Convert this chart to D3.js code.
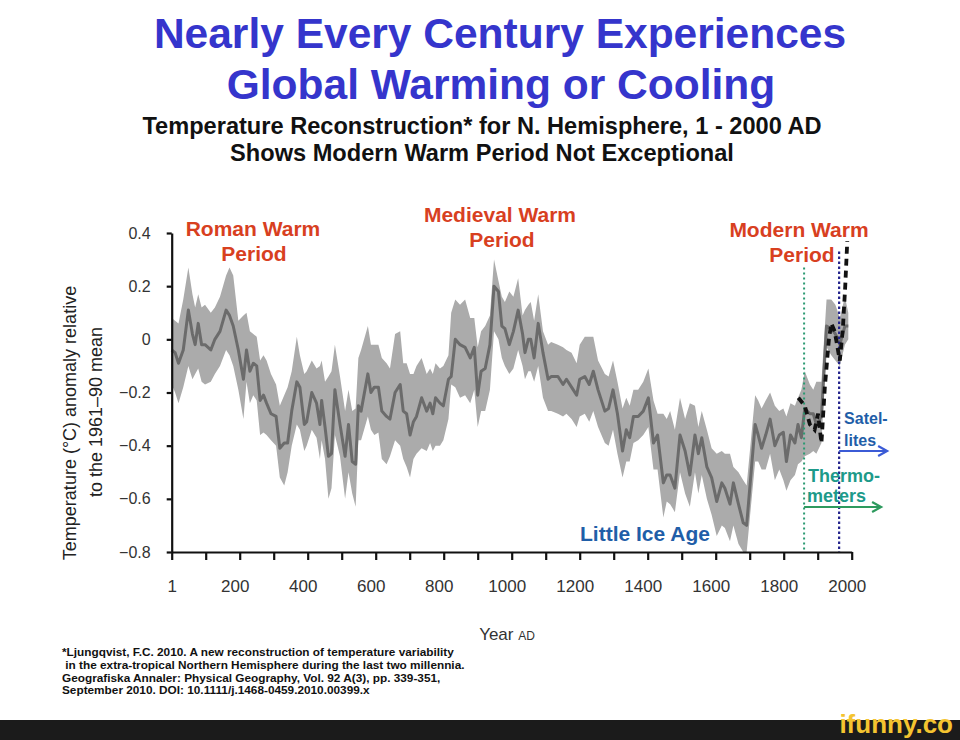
<!DOCTYPE html>
<html><head><meta charset="utf-8">
<script src="https://cdn.jsdelivr.net/npm/d3@7"></script>
<style>
body{margin:0;background:#fff;}
svg{display:block;font-family:"Liberation Sans",Arial,Helvetica,sans-serif;}
</style>
</head><body>
<svg id="chart" width="960" height="740"></svg>
<script>
// ---- Data ----
const years = [0,10,20,34,49,61,69,78,88,98,115,127,142,160,170,181,196,211,220,230,240,250,260,270,279,292,307,318,331,341,353,368,377,390,397,412,426,436,441,451,461,470,480,495,510,520,531,541,549,557,577,586,596,608,618,632,642,657,672,681,691,701,711,720,735,750,760,768,776,789,799,814,822,834,848,863,878,890,900,910,922,936,948,961,971,980,993,1005,1019,1032,1039,1049,1056,1066,1078,1092,1107,1116,1136,1151,1161,1176,1191,1200,1215,1228,1240,1254,1274,1285,1298,1311,1326,1337,1347,1358,1372,1387,1402,1417,1429,1446,1456,1466,1480,1495,1510,1524,1539,1549,1559,1574,1588,1603,1618,1627,1642,1652,1667,1681,1691,1716,1725,1735,1747,1760,1774,1787,1799,1808,1820,1833,1842,1852,1862,1877,1887,1896,1911,1926,1940,1952,1965,1980,1990];
const recon = [-0.04,-0.05,-0.09,-0.04,0.11,0.02,-0.02,0.06,-0.02,-0.02,-0.04,0.00,0.03,0.11,0.09,0.05,-0.04,-0.15,-0.04,-0.12,-0.09,-0.10,-0.23,-0.21,-0.24,-0.28,-0.29,-0.41,-0.39,-0.39,-0.27,-0.16,-0.18,-0.32,-0.31,-0.20,-0.24,-0.32,-0.23,-0.33,-0.44,-0.43,-0.19,-0.32,-0.44,-0.32,-0.46,-0.47,-0.25,-0.27,-0.13,-0.20,-0.18,-0.18,-0.27,-0.29,-0.30,-0.20,-0.17,-0.27,-0.28,-0.36,-0.31,-0.29,-0.22,-0.27,-0.24,-0.28,-0.22,-0.24,-0.25,-0.15,-0.14,0.00,-0.02,-0.03,-0.07,-0.03,-0.21,-0.12,-0.11,-0.02,0.20,0.18,0.05,0.04,-0.02,0.03,0.11,0.02,-0.05,0.00,0.00,-0.07,0.06,-0.05,-0.15,-0.14,-0.14,-0.17,-0.15,-0.18,-0.21,-0.15,-0.14,-0.17,-0.12,-0.19,-0.27,-0.26,-0.19,-0.28,-0.42,-0.34,-0.37,-0.29,-0.29,-0.27,-0.22,-0.39,-0.36,-0.54,-0.51,-0.51,-0.56,-0.36,-0.42,-0.51,-0.36,-0.43,-0.37,-0.48,-0.52,-0.61,-0.54,-0.56,-0.62,-0.54,-0.62,-0.69,-0.70,-0.32,-0.36,-0.41,-0.36,-0.30,-0.40,-0.36,-0.35,-0.46,-0.36,-0.39,-0.32,-0.37,-0.26,-0.28,-0.28,-0.32,-0.29,0.05,0.04,0.02,-0.02,0.05,0.05];
const upper = [0.08,0.07,0.06,0.15,0.27,0.17,0.12,0.17,0.12,0.13,0.10,0.12,0.16,0.24,0.27,0.24,0.07,0.09,0.10,0.03,0.02,0.01,-0.08,-0.06,-0.08,-0.13,-0.17,-0.25,-0.21,-0.18,-0.12,0.01,-0.06,-0.13,-0.12,-0.08,-0.11,-0.10,-0.08,-0.16,-0.14,-0.12,-0.02,-0.14,-0.27,-0.19,-0.27,-0.26,-0.07,-0.04,0.05,-0.02,-0.02,-0.02,-0.07,-0.09,-0.11,0.02,0.03,-0.09,-0.09,-0.13,-0.13,-0.10,-0.07,-0.13,-0.11,-0.13,-0.09,-0.11,-0.10,-0.06,0.10,0.15,0.13,0.15,0.08,0.08,-0.03,0.03,0.05,0.09,0.30,0.22,0.16,0.14,0.18,0.16,0.23,0.09,0.11,0.13,0.14,0.07,0.17,0.03,-0.02,-0.01,-0.02,-0.03,-0.04,-0.05,-0.09,-0.02,0.01,0.01,0.01,-0.08,-0.13,-0.14,-0.08,-0.16,-0.26,-0.22,-0.25,-0.19,-0.19,-0.16,-0.11,-0.23,-0.28,-0.28,-0.30,-0.27,-0.34,-0.22,-0.30,-0.24,-0.25,-0.33,-0.27,-0.34,-0.41,-0.43,-0.42,-0.43,-0.43,-0.48,-0.50,-0.53,-0.55,-0.21,-0.23,-0.26,-0.23,-0.20,-0.25,-0.27,-0.26,-0.29,-0.24,-0.25,-0.22,-0.19,-0.12,-0.17,-0.19,-0.16,-0.16,0.15,0.15,0.13,0.08,0.16,0.10];
const lower = [-0.17,-0.20,-0.24,-0.18,-0.10,-0.15,-0.13,-0.11,-0.16,-0.17,-0.16,-0.13,-0.10,-0.04,-0.06,-0.10,-0.19,-0.30,-0.16,-0.24,-0.21,-0.23,-0.36,-0.35,-0.36,-0.38,-0.40,-0.52,-0.55,-0.50,-0.40,-0.32,-0.34,-0.42,-0.40,-0.34,-0.37,-0.45,-0.38,-0.45,-0.60,-0.56,-0.36,-0.44,-0.60,-0.50,-0.58,-0.63,-0.38,-0.38,-0.29,-0.34,-0.36,-0.35,-0.45,-0.47,-0.44,-0.38,-0.40,-0.45,-0.48,-0.52,-0.45,-0.43,-0.41,-0.42,-0.39,-0.42,-0.40,-0.40,-0.38,-0.30,-0.17,-0.18,-0.22,-0.21,-0.24,-0.19,-0.33,-0.27,-0.27,-0.19,0.03,0.00,-0.07,-0.10,-0.13,-0.11,-0.04,-0.10,-0.15,-0.12,-0.12,-0.16,-0.10,-0.22,-0.27,-0.27,-0.28,-0.29,-0.28,-0.30,-0.33,-0.29,-0.28,-0.31,-0.27,-0.33,-0.39,-0.40,-0.34,-0.43,-0.52,-0.46,-0.46,-0.39,-0.38,-0.36,-0.33,-0.49,-0.49,-0.67,-0.61,-0.62,-0.65,-0.50,-0.58,-0.63,-0.50,-0.58,-0.51,-0.60,-0.66,-0.74,-0.70,-0.71,-0.76,-0.70,-0.77,-0.80,-0.80,-0.46,-0.46,-0.49,-0.49,-0.43,-0.53,-0.49,-0.53,-0.57,-0.53,-0.51,-0.47,-0.46,-0.44,-0.43,-0.42,-0.43,-0.39,-0.03,-0.06,-0.08,-0.10,-0.02,0.00];

// instrumental record (black dashed)
const instYears  = [1843,1862,1877,1891,1901,1911,1921,1933,1940,1950,1965,1974,1981,1987];
const instValues = [-0.22,-0.25,-0.32,-0.34,-0.28,-0.39,-0.18,0.00,0.06,0.03,-0.08,0.04,0.20,0.37];

const yTickValues = [0.4,0.2,0,-0.2,-0.4,-0.6,-0.8];
const yTickLabels = ["0.4","0.2","0","\u22120.2","\u22120.4","\u22120.6","\u22120.8"];
const xTickValues = d3.range(0, 2001, 100);
const xLabelValues = [0,200,400,600,800,1000,1200,1400,1600,1800,2000];
const xTickLabels  = ["1","200","400","600","800","1000","1200","1400","1600","1800","2000"];

const thermometerYear = 1860;
const satelliteYear = 1963;

const footnoteLines = [
  "*Ljungqvist, F.C. 2010. A new reconstruction of temperature variability",
  " in the extra-tropical Northern Hemisphere during the last two millennia.",
  "Geografiska Annaler: Physical Geography, Vol. 92 A(3), pp. 339-351,",
  "September 2010. DOI: 10.1111/j.1468-0459.2010.00399.x"
];

// ---- Drawing ----
const svg = d3.select("#chart");
svg.append("rect").attr("width",960).attr("height",740).attr("fill","#fff");

const x = d3.scaleLinear().domain([0, 2000]).range([171.7, 851.7]);
const y = d3.scaleLinear().domain([-0.8, 0.4]).range([552, 233]);

// Titles
const tBlue = "#3535cc";
svg.append("text").attr("x",500).attr("y",48).attr("text-anchor","middle")
  .attr("font-size",42.5).attr("font-weight","bold").attr("fill",tBlue)
  .text("Nearly Every Century Experiences");
svg.append("text").attr("x",501).attr("y",99).attr("text-anchor","middle")
  .attr("font-size",42.5).attr("font-weight","bold").attr("fill",tBlue)
  .text("Global Warming or Cooling");
svg.append("text").attr("x",482).attr("y",134).attr("text-anchor","middle")
  .attr("font-size",23.6).attr("font-weight","bold").attr("fill","#111")
  .text("Temperature Reconstruction* for N. Hemisphere, 1 - 2000 AD");
svg.append("text").attr("x",482).attr("y",161).attr("text-anchor","middle")
  .attr("font-size",23.6).attr("font-weight","bold").attr("fill","#111")
  .text("Shows Modern Warm Period Not Exceptional");

const series = years.map((yr,i)=>({year:yr, v:recon[i], hi:upper[i], lo:lower[i]}));

// uncertainty band
svg.append("path").datum(series)
  .attr("fill","#ababab")
  .attr("d", d3.area().x(d=>x(d.year)).y0(d=>y(d.lo)).y1(d=>y(d.hi)));

// reconstruction line
svg.append("path").datum(series)
  .attr("fill","none").attr("stroke","#6b6b6b").attr("stroke-width",3)
  .attr("stroke-linejoin","round")
  .attr("d", d3.line().x(d=>x(d.year)).y(d=>y(d.v)));

// vertical dotted markers
svg.append("line").attr("x1",x(thermometerYear)).attr("x2",x(thermometerYear))
  .attr("y1",y(0.27)).attr("y2",y(-0.8))
  .attr("stroke","#2a9a72").attr("stroke-width",2).attr("stroke-dasharray","2,3");
svg.append("line").attr("x1",x(satelliteYear)).attr("x2",x(satelliteYear))
  .attr("y1",y(0.33)).attr("y2",y(-0.8))
  .attr("stroke","#23238c").attr("stroke-width",2.2).attr("stroke-dasharray","2.5,2.5");

// instrumental dashed line
const inst = instYears.map((yr,i)=>({year:yr, v:instValues[i]}));
svg.append("path").datum(inst)
  .attr("fill","none").attr("stroke","#111").attr("stroke-width",3.8)
  .attr("stroke-dasharray","7,5")
  .attr("d", d3.line().x(d=>x(d.year)).y(d=>y(d.v)));

// axes
const yAxis = d3.axisLeft(y).tickValues(yTickValues).tickSize(5).tickSizeOuter(0)
  .tickPadding(16).tickFormat((d,i)=>yTickLabels[i]);
const gy = svg.append("g").attr("transform",`translate(${x(0)},0)`).call(yAxis);
const xAxis = d3.axisBottom(x).tickValues(xTickValues).tickSize(8).tickSizeOuter(0)
  .tickPadding(20).tickFormat(d=>{const k=xLabelValues.indexOf(d); return k>=0?xTickLabels[k]:"";});
const gx = svg.append("g").attr("transform",`translate(0,${y(-0.8)})`).call(xAxis);
[gx,gy].forEach(g=>{
  g.select(".domain").attr("stroke","#111").attr("stroke-width",2.2);
  g.selectAll(".tick line").attr("stroke","#111").attr("stroke-width",2.2);
  g.selectAll(".tick text").attr("font-size",16).attr("fill","#333")
    .attr("font-family","'Liberation Sans',Arial,sans-serif");
});
gx.selectAll(".tick text").attr("font-size",17).attr("dx", d=> d===0 ? 0 : -5);

// axis titles
svg.append("text").attr("transform","translate(76,423) rotate(-90)")
  .attr("text-anchor","middle").attr("font-size",18).attr("fill","#222")
  .text("Temperature (\u00B0C) anomaly relative");
svg.append("text").attr("transform","translate(102,412) rotate(-90)")
  .attr("text-anchor","middle").attr("font-size",18).attr("fill","#222")
  .text("to the 1961\u201390 mean");
const xt = svg.append("text").attr("x",507).attr("y",640).attr("text-anchor","middle").attr("fill","#333");
xt.append("tspan").attr("font-size",17).text("Year ");
xt.append("tspan").attr("font-size",12).text("AD");

// period labels
const red = "#d8401f";
[["Roman Warm",253,236],["Period",254,261],["Medieval Warm",500,222],["Period",502,247],
 ["Modern Warm",799,237],["Period",802,262]].forEach(([t,px,py])=>{
  svg.append("text").attr("x",px).attr("y",py).attr("text-anchor","middle")
    .attr("font-size",21).attr("font-weight","bold").attr("fill",red).text(t);
});
svg.append("text").attr("x",645).attr("y",541).attr("text-anchor","middle")
  .attr("font-size",21).attr("font-weight","bold").attr("fill","#1f5ea8").text("Little Ice Age");

// Satellites / Thermometers annotations
const xs = x(satelliteYear), xth = x(thermometerYear);
svg.append("text").attr("x",xs+5).attr("y",424).attr("font-size",16).attr("font-weight","bold")
  .attr("fill","#1f5ea8").text("Satel-");
svg.append("text").attr("x",xs+5).attr("y",446).attr("font-size",16).attr("font-weight","bold")
  .attr("fill","#1f5ea8").text("lites");
svg.append("text").attr("x",xth+4).attr("y",482).attr("font-size",18).attr("font-weight","bold")
  .attr("fill","#1d9a8a").text("Thermo-");
svg.append("text").attr("x",xth+3).attr("y",502).attr("font-size",18).attr("font-weight","bold")
  .attr("fill","#1d9a8a").text("meters");

function arrow(x1,x2,yy,color){
  svg.append("line").attr("x1",x1).attr("x2",x2).attr("y1",yy).attr("y2",yy)
    .attr("stroke",color).attr("stroke-width",2.2);
  svg.append("path").attr("d",`M${x2-9},${yy-5}L${x2},${yy}L${x2-9},${yy+5}`)
    .attr("fill","none").attr("stroke",color).attr("stroke-width",2.2);
}
arrow(xs, xs+48, 451, "#3b5bd6");
arrow(xth, xth+77, 507, "#2e9a5e");

// footnote
footnoteLines.forEach((t,i)=>{
  svg.append("text").attr("x",62).attr("y",656+i*12.8).attr("font-size",11.8)
    .attr("font-weight","bold").attr("fill","#111").attr("xml:space","preserve")
    .style("white-space","pre").text(t);
});

// bottom bar watermark
svg.append("rect").attr("x",0).attr("y",720).attr("width",960).attr("height",20).attr("fill","#1b1b1b");
svg.append("text").attr("x",953).attr("y",733).attr("text-anchor","end")
  .attr("font-size",26).attr("font-weight","bold").attr("fill","#f4c430").text("ifunny.co");
</script>
</body></html>
